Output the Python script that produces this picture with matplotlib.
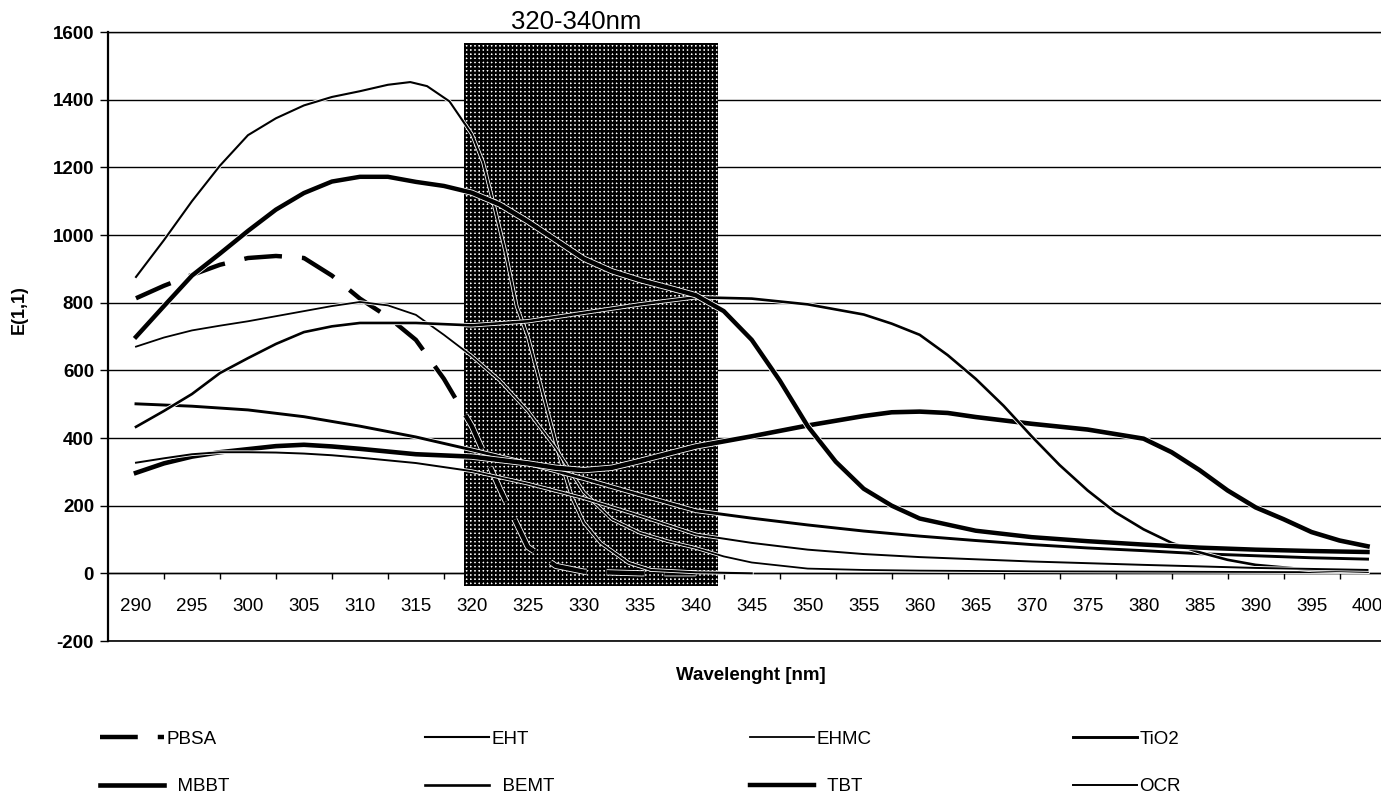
import matplotlib
matplotlib.use("Agg")
import matplotlib.pyplot as plt
import matplotlib.patheffects as pe
from matplotlib.lines import Line2D
from matplotlib.patches import Rectangle

plt.rcParams["font.family"] = ["Liberation Sans", "DejaVu Sans"]
plt.rcParams["hatch.linewidth"] = 1.8
plt.rcParams["axes.unicode_minus"] = False

# values: wavelength [nm] -> E(1,1)
PBSA_NM = [290, 292.5, 295, 297.5, 300, 302.5, 305, 307.5, 310, 312.5, 315, 317.5,
           320, 322.5, 325, 327.5, 330, 335, 340]
PBSA_E = [813, 850, 882, 912, 932, 938, 932, 880, 812, 758, 690, 575,
          435, 250, 78, 22, 5, 0, 0]

EHT_NM = [290, 292.5, 295, 297.5, 300, 302.5, 305, 307.5, 310, 312.5, 314.5, 316,
          318, 320, 321, 322, 323, 324, 325, 326, 327, 328, 329, 330, 331.5, 334,
          336, 340, 345]
EHT_E = [876, 985, 1100, 1205, 1295, 1345, 1383, 1408, 1425, 1444, 1452, 1440,
         1395, 1298, 1215, 1085, 950, 790, 700, 575, 450, 325, 220, 150, 90, 31,
         10, 3, 0]

EHMC_NM = [290, 292.5, 295, 297.5, 300, 302.5, 305, 307.5, 310, 312.5, 315, 317.5,
           320, 322.5, 325, 327.5, 330, 332.5, 335, 337.5, 340, 342.5, 345, 350,
           355, 360, 370, 380, 390, 400]
EHMC_E = [670, 697, 718, 732, 745, 760, 775, 790, 802, 792, 764, 705,
          642, 570, 480, 370, 240, 160, 120, 95, 75, 50, 32, 14,
          10, 8, 6, 5, 4, 3]

TIO2_NM = [290, 295, 300, 305, 310, 315, 320, 325, 330, 335, 340, 345, 350, 355,
           360, 365, 370, 375, 380, 385, 390, 395, 400]
TIO2_E = [501, 494, 483, 463, 435, 403, 365, 325, 280, 232, 185, 163, 143, 125,
          110, 97, 85, 75, 67, 58, 52, 46, 42]

MBBT_NM = [290, 292.5, 295, 297.5, 300, 302.5, 305, 307.5, 310, 315, 320, 325,
           327.5, 330, 332.5, 335, 340, 345, 350, 355, 357.5, 360, 362.5, 365,
           370, 375, 380, 382.5, 385, 387.5, 390, 392.5, 395, 397.5, 400]
MBBT_E = [297, 325, 345, 358, 367, 376, 380, 375, 368, 352, 345, 325,
          312, 305, 312, 332, 375, 405, 437, 465, 476, 478, 474, 462,
          442, 425, 398, 358, 305, 245, 195, 160, 122, 97, 80]

BEMT_NM = [290, 292.5, 295, 297.5, 300, 302.5, 305, 307.5, 310, 315, 320, 325,
           330, 335, 340, 345, 350, 355, 357.5, 360, 362.5, 365, 367.5, 370,
           372.5, 375, 377.5, 380, 382.5, 385, 387.5, 390, 395, 400]
BEMT_E = [433, 480, 530, 592, 636, 678, 713, 730, 740, 740, 733, 745,
          770, 795, 816, 812, 795, 765, 738, 705, 645, 575, 495, 405,
          320, 245, 180, 130, 90, 62, 40, 25, 10, 5]

TBT_NM = [290, 292.5, 295, 297.5, 300, 302.5, 305, 307.5, 310, 312.5, 315, 317.5,
          320, 322.5, 325, 327.5, 330, 332.5, 335, 337.5, 340, 342.5, 345, 347.5,
          350, 352.5, 355, 357.5, 360, 365, 370, 375, 380, 385, 390, 395, 400]
TBT_E = [699, 790, 880, 945, 1012, 1075, 1124, 1158, 1172, 1172, 1157, 1145,
         1125, 1090, 1040, 985, 930, 893, 867, 845, 822, 775, 690, 570,
         435, 330, 250, 200, 162, 126, 107, 95, 85, 76, 70, 66, 63]

OCR_NM = [290, 292.5, 295, 297.5, 300, 302.5, 305, 307.5, 310, 315, 320, 325, 330,
          335, 340, 345, 350, 355, 360, 370, 380, 390, 400]
OCR_E = [327, 340, 352, 358, 358, 357, 354, 349, 342, 326, 302, 265, 222,
         170, 115, 90, 70, 57, 48, 35, 25, 16, 10]

CATEGORIES = list(range(290, 401, 5))
Y_TICKS = list(range(-200, 1601, 200))
BAND_NM = [319.3, 342.0]
BAND_E = [-37, 1567]
BAND_TITLE = "320-340nm"

W, H = 1381, 798
fig = plt.figure(figsize=(W / 100, H / 100), dpi=100)
ax = fig.add_axes([108 / W, 1 - 641 / H, 1287.5 / W, 609 / H])

# legend order (row by row), each with its line style
SERIES = [
    ("PBSA", PBSA_NM, PBSA_E, dict(lw=3.2, ls=(0, (8.5, 4.5)), dash_capstyle="butt")),
    ("EHT", EHT_NM, EHT_E, dict(lw=1.5)),
    ("EHMC", EHMC_NM, EHMC_E, dict(lw=1.3)),
    ("TiO2", TIO2_NM, TIO2_E, dict(lw=2.1)),
    ("  MBBT", MBBT_NM, MBBT_E, dict(lw=3.3)),
    ("  BEMT", BEMT_NM, BEMT_E, dict(lw=1.9)),
    ("  TBT", TBT_NM, TBT_E, dict(lw=3.2)),
    ("OCR", OCR_NM, OCR_E, dict(lw=1.4)),
]

handles = []
for name, xs, ys, style in SERIES:
    ax.plot(xs, ys, color="black", zorder=4, **style,
            path_effects=[pe.Stroke(linewidth=style["lw"] + 1.2, foreground="white"),
                          pe.Normal()])
    handles.append(Line2D([], [], color="black", **style))

band = Rectangle((BAND_NM[0], BAND_E[0]), BAND_NM[1] - BAND_NM[0], BAND_E[1] - BAND_E[0],
                 facecolor="white", edgecolor="black", linewidth=0, hatch="++++", zorder=3)
ax.add_patch(band)

ax.set_xlim(287.5, 402.5)
ax.set_ylim(-200, 1600)

ax.set_yticks(Y_TICKS)
ax.yaxis.grid(True, color="black", lw=1.0, zorder=1)
ax.set_axisbelow(True)
ax.axhline(-200, color="black", lw=1.2, clip_on=False, zorder=2)

ax.set_xticks(CATEGORIES)
ax.set_xticks([c + 2.5 for c in CATEGORIES], minor=True)
ax.tick_params(axis="x", which="major", length=0, pad=18, labelsize=13.5)
ax.tick_params(axis="x", which="minor", length=4, width=1, direction="out")
ax.tick_params(axis="y", length=6, width=1, pad=4, labelsize=13.5)
for lab in ax.get_xticklabels() + ax.get_yticklabels():
    lab.set_fontweight("bold")

ax.spines["right"].set_visible(False)
ax.spines["bottom"].set_position(("data", 0))
ax.spines["bottom"].set_linewidth(1.0)
ax.spines["top"].set_linewidth(1.0)
ax.spines["left"].set_linewidth(1.6)

ax.set_ylabel("E(1,1)", fontsize=13, fontweight="bold")
ax.yaxis.set_label_coords(-0.062, 0.544)
ax.set_xlabel("Wavelenght [nm]", fontsize=13.5, fontweight="bold")
ax.xaxis.set_label_coords(0.4994, -0.042)

ax.text(329.3, 1609, BAND_TITLE, fontsize=18.5, ha="center", va="baseline", clip_on=False)

# legend: four columns of two entries each
col_x = [100, 425, 750, 1073]
for i, x0 in enumerate(col_x):
    idx = [i, i + 4]
    fig.legend([handles[j] for j in idx], [SERIES[j][0] for j in idx],
               loc="center left", bbox_to_anchor=(x0 / W, 1 - 763 / H),
               frameon=False, fontsize=13.5, handlelength=3.4, handletextpad=0.15,
               labelspacing=1.6, borderpad=0, borderaxespad=0)

fig.savefig("out.png", dpi=100)
